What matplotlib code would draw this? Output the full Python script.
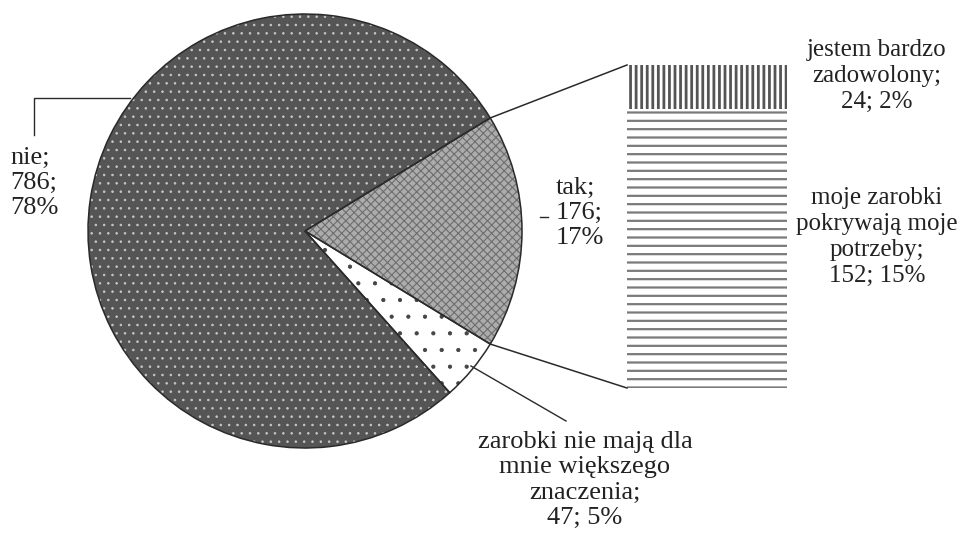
'''Pie-of-bar chart: satisfaction with earnings (nie / tak / zarobki nie mają znaczenia), "tak" split into a stacked bar.'''
import numpy as np
import matplotlib
matplotlib.use("Agg")
import matplotlib.pyplot as plt

## data
pie_labels = ["tak", "zarobki nie mają dla\nmnie większego\nznaczenia", "nie"]
pie_counts = [176, 47, 786]
pie_pcts = [17, 5, 78]

bar_labels = ["moje zarobki\npokrywają moje\npotrzeby", "jestem bardzo\nzadowolony"]
bar_counts = [152, 24]
bar_pcts = [15, 2]

W, H = 965, 534
def Y(py):
    # pixel row (from top) -> data y
    return H - py

def hatch_lw(patch, lw):
    # per-patch hatch width where the matplotlib version allows it
    if hasattr(patch, "set_hatch_linewidth"):
        patch.set_hatch_linewidth(lw)

plt.rcParams.update({'font.family': ['Liberation Serif', 'DejaVu Serif'],
                     'font.size': 19, 'hatch.linewidth': 1.2})

fig = plt.figure(figsize=(9.65, 5.34), dpi=100)
ax = fig.add_axes([0, 0, 1, 1])

## pie
cx, cy, r = 305, Y(231), 217
start = 180 * pie_counts[0] / sum(pie_counts)
faces = ["#acacac", "white", "#555555"]
hatch_cols = ["#6e6e6e", "#444444", "#c8c8c8"]
hatches = ["xxxx", ".", ".."]
hatch_widths = [0.8, 0.6, 0.6]
wedges, _ = ax.pie(pie_counts, center=(cx, cy), radius=r, startangle=start,
                   counterclock=False, colors=faces,
                   wedgeprops={'linewidth': 0})
for w, hc, h, hw in zip(wedges, hatch_cols, hatches, hatch_widths):
    w.set_hatch(h)
    w.set_edgecolor(hc)
    w.set_linewidth(0)
    hatch_lw(w, hw)
# outlines on top
ax.pie(pie_counts, center=(cx, cy), radius=r, startangle=start,
       counterclock=False,
       wedgeprops={'fill': False, 'edgecolor': '#2a2a2a', 'linewidth': 1.1})

## stacked bar for "tak"
bx, bw = 707, 160
bar_bottom = Y(388)
scale = 323 / sum(bar_counts)
bar_hatches = ["--", "|||"]
bar_cols = ["#7a7a7a", "#555555"]
bar_hw = [1.6, 2.0]
bottom = bar_bottom
bar_tops = []
for cnt, h, c, hw in zip(bar_counts, bar_hatches, bar_cols, bar_hw):
    rect = ax.bar(bx, cnt * scale, width=bw, bottom=bottom, color="white",
                  edgecolor=c, hatch=h, linewidth=0)[0]
    hatch_lw(rect, hw)
    bottom += cnt * scale
    bar_tops.append(bottom)

## connector lines from the "tak" wedge to the bar
t1, t2 = np.deg2rad(wedges[0].theta1), np.deg2rad(wedges[0].theta2)
ax.plot([cx + r * np.cos(t2), bx - bw / 2], [cy + r * np.sin(t2), bar_tops[-1]],
        color="#2a2a2a", lw=1.1)
ax.plot([cx + r * np.cos(t1), bx - bw / 2], [cy + r * np.sin(t1), bar_bottom],
        color="#2a2a2a", lw=1.1)

## labels
txt = dict(color="#222222", linespacing=1.2)
ax.text(10, Y(183), f"{pie_labels[2]};\n{pie_counts[2]};\n{pie_pcts[2]}%",
        ha="left", va="center", **txt)
ax.plot([34, 34, 130], [Y(135), Y(98), Y(98)], color="#2a2a2a", lw=1)

ax.text(556, Y(213), f"{pie_labels[0]};\n{pie_counts[0]};\n{pie_pcts[0]}%",
        ha="left", va="center", **txt)
ax.plot([540, 548], [Y(217), Y(217)], color="#2a2a2a", lw=1)

ax.text(585, Y(480), f"{pie_labels[1]};\n{pie_counts[1]}; {pie_pcts[1]}%",
        ha="center", va="center", **txt)
ax.plot([471, 566], [Y(366), Y(421)], color="#2a2a2a", lw=1)

bar_txt = dict(color="#222222", linespacing=1.25, fontsize=18)
ax.text(877, Y(76), f"{bar_labels[1]};\n{bar_counts[1]}; {bar_pcts[1]}%",
        ha="center", va="center", **bar_txt)
ax.text(877, Y(237), f"{bar_labels[0]};\n{bar_counts[0]}; {bar_pcts[0]}%",
        ha="center", va="center", **bar_txt)

ax.set_xlim(0, W)
ax.set_ylim(0, H)
ax.set_aspect("equal")
ax.axis("off")

plt.savefig("out.png", dpi=100)
